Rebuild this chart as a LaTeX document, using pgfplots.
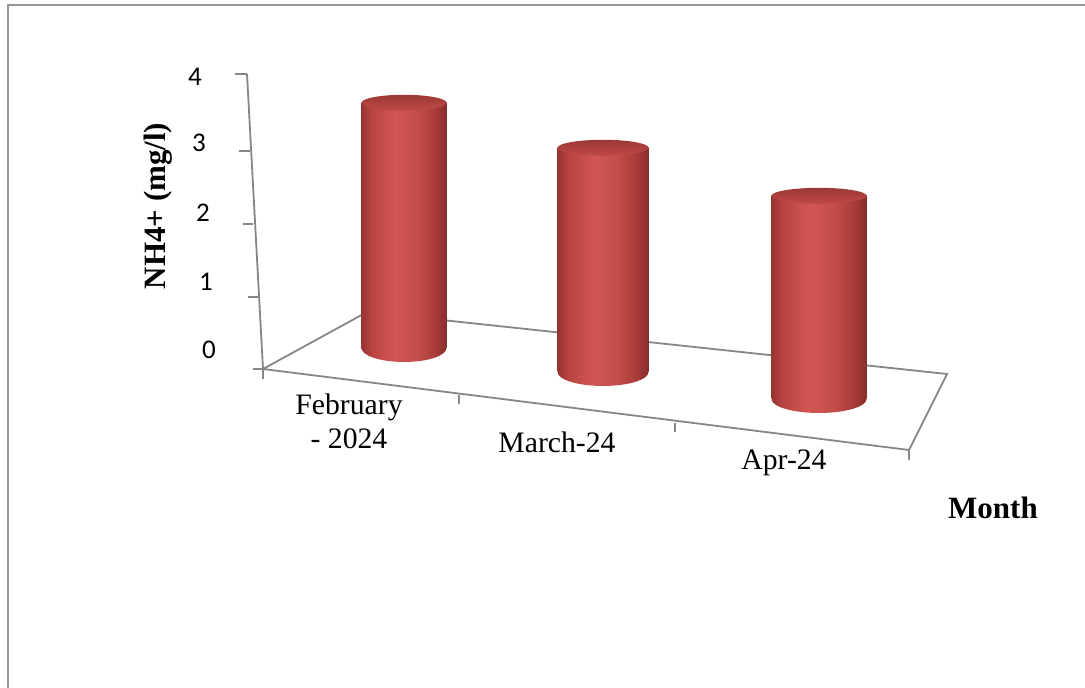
\documentclass[border=0pt]{standalone}
\usepackage{pgfplots}
\pgfplotsset{compat=1.18}
\usepackage{fontspec}
\setmainfont{Liberation Serif}
\newfontfamily\calibri{Carlito}

\definecolor{axgray}{RGB}{134,134,134}
\definecolor{bordergray}{RGB}{150,150,150}
\definecolor{cA}{RGB}{150,52,50}
\definecolor{cB}{RGB}{185,68,66}
\definecolor{cC}{RGB}{208,86,83}
\definecolor{cD}{RGB}{196,78,75}
\definecolor{cE}{RGB}{165,58,56}
\definecolor{cF}{RGB}{135,46,44}
\pgfdeclarehorizontalshading{cylbody}{100bp}{color(0bp)=(cA); color(25bp)=(cA); color(31bp)=(cB); color(45bp)=(cC); color(57.5bp)=(cD); color(69bp)=(cE); color(75bp)=(cF); color(100bp)=(cF)}
\definecolor{tA}{RGB}{192,74,71}
\definecolor{tB}{RGB}{155,56,54}
\pgfdeclareverticalshading{cyltopsh}{100bp}{color(0bp)=(tA); color(25bp)=(tA); color(75bp)=(tB); color(100bp)=(tB)}

\pgfdeclareplotmark{cylbot}{\pgfpathellipse{\pgfpointorigin}{\pgfqpoint{\pgfplotmarksize}{0pt}}{\pgfqpoint{0pt}{7pt}}\pgfshadepath{cylbody}{0}\pgfusepath{}}
\pgfdeclareplotmark{cyltop}{\pgfpathellipse{\pgfpointorigin}{\pgfqpoint{\pgfplotmarksize}{0pt}}{\pgfqpoint{0pt}{4pt}}\pgfshadepath{cyltopsh}{0}\pgfusepath{}}

\tikzset{
  ticklab/.style={inner sep=0pt, font={\calibri\fontsize{13.5}{16}\selectfont}},
  catlab/.style={inner sep=0pt, align=center, font={\fontsize{14.85}{17}\selectfont}},
  titlab/.style={inner sep=0pt, font={\bfseries\fontsize{15.5}{18}\selectfont}}
}

\begin{document}
\begin{tikzpicture}
\pgfplotsset{base/.style={scale only axis, width=542.5pt, height=344pt, xmin=0, xmax=1085, hide axis, clip=false, at={(0,0)}, anchor=south west}}
% frame, floor, axis, labels (pixel coordinates)
\begin{axis}[base, ymin=0, ymax=688, y dir=reverse]
\addplot[bordergray, line width=1pt] coordinates {(8.3,688) (8.3,5.2) (1085,5.2)};
\addplot[axgray, line width=0.9pt] coordinates {(263,369) (367,312) (947,374) (909,450) (263,369)};
\addplot[axgray, line width=0.9pt] coordinates {(263,369) (247,74)};
\addplot[axgray, line width=0.9pt] coordinates {(235,74) (247,74)};
\addplot[axgray, line width=0.9pt] coordinates {(239,151) (250,151)};
\addplot[axgray, line width=0.9pt] coordinates {(243,224) (253,224)};
\addplot[axgray, line width=0.9pt] coordinates {(248,297) (258,297)};
\addplot[axgray, line width=0.9pt] coordinates {(253,369) (263,369)};
\addplot[axgray, line width=0.9pt] coordinates {(263,369) (263,379)};
\addplot[axgray, line width=0.9pt] coordinates {(459,395) (459,404)};
\addplot[axgray, line width=0.9pt] coordinates {(675,423) (675,432)};
\addplot[axgray, line width=0.9pt] coordinates {(909,450) (909,460)};
\node[ticklab] at (axis cs:195,77) {4};
\node[ticklab] at (axis cs:199,143) {3};
\node[ticklab] at (axis cs:203,213) {2};
\node[ticklab] at (axis cs:206,282) {1};
\node[ticklab] at (axis cs:209,350) {0};
\node[titlab, rotate=90] at (axis cs:158,206) {NH4+ (mg/l)};
\node[catlab] at (axis cs:349,421) {February\\- 2024};
\node[catlab] at (axis cs:557,442) {March-24};
\node[catlab] at (axis cs:784,463) {Apr-24};
\node[titlab] at (axis cs:993,508) {Month};
\end{axis}
% February - 2024 : 3.5
\begin{axis}[base, ymin=-4.8530, ymax=4.9672]
\addplot[only marks, mark=cylbot, mark size=21.25pt] coordinates {(404,0)};
\addplot[ybar, bar width=85, draw=none, shading=cylbody] coordinates {(404,3.5)};
\addplot[only marks, mark=cyltop, mark size=21.25pt] coordinates {(404,3.5)};
\end{axis}
% March-24 : 3.2
\begin{axis}[base, ymin=-4.5104, ymax=5.3097]
\addplot[only marks, mark=cylbot, mark size=22.75pt] coordinates {(603,0)};
\addplot[ybar, bar width=91, draw=none, shading=cylbody] coordinates {(603,3.2)};
\addplot[only marks, mark=cyltop, mark size=22.75pt] coordinates {(603,3.2)};
\end{axis}
% Apr-24 : 2.9
\begin{axis}[base, ymin=-4.1250, ymax=5.6951]
\addplot[only marks, mark=cylbot, mark size=23.75pt] coordinates {(819,0)};
\addplot[ybar, bar width=95, draw=none, shading=cylbody] coordinates {(819,2.9)};
\addplot[only marks, mark=cyltop, mark size=23.75pt] coordinates {(819,2.9)};
\end{axis}
\pgfresetboundingbox
\path (0,0) rectangle (542.5pt,344pt);
\end{tikzpicture}
\end{document}
